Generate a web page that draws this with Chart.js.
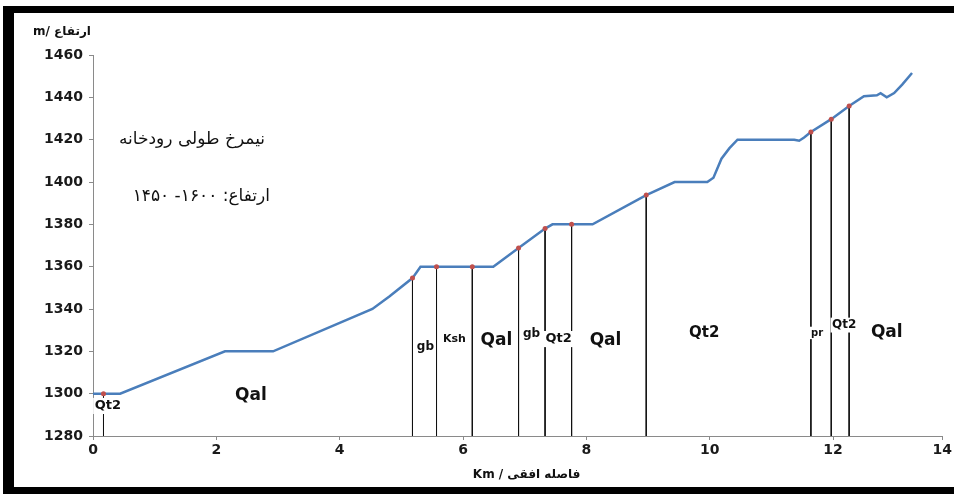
<!DOCTYPE html>
<html>
<head>
<meta charset="utf-8">
<script src="https://cdn.jsdelivr.net/npm/chart.js@4.4.1/dist/chart.umd.min.js"></script>
<style>
  html, body { margin: 0; padding: 0; background: #fff; }
  #wrap { position: relative; width: 954px; height: 494px; overflow: hidden; }
  canvas { position: absolute; left: 0; top: 0; }
  .bar { position: absolute; background: #000; }
</style>
</head>
<body>
<div id="wrap">
  <canvas id="c" width="954" height="494"></canvas>
  <div class="bar" style="left:3px;top:6px;width:11px;height:488px;"></div>
  <div class="bar" style="left:3px;top:6px;width:951px;height:7px;"></div>
  <div class="bar" style="left:3px;top:487px;width:951px;height:7px;"></div>
</div>
<script>
// ---- data ----
const profileKm   = [0, 0.17, 0.44, 2.14, 2.92, 4.53, 4.81, 5.18, 5.31, 5.57, 6.15, 6.49, 6.90, 7.33, 7.45, 7.76, 8.10, 8.97, 9.43, 9.96, 10.06, 10.19, 10.32, 10.45, 11.37, 11.45, 11.53, 11.64, 11.97, 12.26, 12.50, 12.71, 12.77, 12.87, 12.99, 13.12, 13.28];
const profileElev = [1300, 1300, 1300, 1320, 1320, 1340, 1346, 1354.6, 1360, 1360, 1360, 1360, 1368.8, 1378, 1380, 1380, 1380, 1393.8, 1400, 1400, 1402, 1411, 1416, 1420, 1420, 1419.5, 1421, 1423.6, 1429.7, 1435.9, 1440.5, 1441, 1442, 1440, 1442, 1446, 1451.5];

const contactKm   = [0.17, 5.18, 5.57, 6.15, 6.90, 7.33, 7.76, 8.97, 11.64, 11.97, 12.26];
const contactElev = [1300, 1354.6, 1360, 1360, 1368.8, 1378, 1380, 1393.8, 1423.6, 1429.7, 1435.9];

const unitNames = ['Qt2', 'Qal', 'gb', 'Ksh', 'Qal', 'gb', 'Qt2', 'Qal', 'Qt2', 'pr', 'Qt2', 'Qal'];
const unitKm    = [0.24, 2.56, 5.39, 5.86, 6.54, 7.11, 7.55, 8.31, 9.91, 11.74, 12.18, 12.87];
const unitElev  = [1294.2, 1298.9, 1322, 1325.8, 1324.9, 1328.2, 1325.8, 1325.3, 1328.7, 1328.7, 1332.4, 1328.7];

const yMin = 1280, yMax = 1460, yStep = 20;
const xMin = 0, xMax = 13.77;
const xTickValues = [0, 2, 4, 6, 8, 10, 12, 14];
const xTickLabels = ['0', '2', '4', '6', '8', '10', '12', '14'];

const yAxisTitle = 'm/ ارتفاع';
const xAxisTitle = 'Km / فاصله افقی';
const noteLine1 = 'نیمرخ طولی رودخانه';
const noteLine2 = 'ارتفاع: ۱۶۰۰- ۱۴۵۰';

// ---- styles (kept apart from data) ----
const unitFontSizes = [13, 17, 12, 11, 17, 12, 13, 17, 15, 10, 12, 17];
const FONT = '"DejaVu Sans", sans-serif';

const datasets = [
  {
    label: 'contacts',
    data: contactKm.map((x, i) => ({ x, y: contactElev[i] })),
    showLine: false,
    pointRadius: 2.5,
    pointBackgroundColor: '#c0504d',
    pointBorderColor: '#c0504d',
    pointBorderWidth: 0,
    order: 0
  },
  {
    label: 'profile',
    data: profileKm.map((x, i) => ({ x, y: profileElev[i] })),
    showLine: true,
    borderColor: '#4a7ebb',
    borderWidth: 2.5,
    pointRadius: 0,
    tension: 0,
    order: 1
  }
];
contactKm.forEach((x, i) => {
  datasets.push({
    label: 'contact' + i,
    data: [{ x, y: contactElev[i] }, { x, y: yMin }],
    showLine: true,
    borderColor: '#111',
    borderWidth: 1,
    pointRadius: 0,
    order: 2
  });
});

const labelsPlugin = {
  id: 'unitLabels',
  afterDatasetsDraw(chart) {
    const { ctx, scales: { x, y } } = chart;
    ctx.save();
    ctx.textAlign = 'center';
    ctx.textBaseline = 'middle';
    unitNames.forEach((t, i) => {
      const px = x.getPixelForValue(unitKm[i]);
      const py = y.getPixelForValue(unitElev[i]);
      const fs = unitFontSizes[i];
      ctx.font = 'bold ' + fs + 'px ' + FONT;
      const w = ctx.measureText(t).width;
      ctx.fillStyle = '#fff';
      ctx.fillRect(px - w / 2 - 1.5, py - fs * 0.62, w + 3, fs * 1.24);
      ctx.fillStyle = '#111';
      ctx.fillText(t, px, py);
    });
    ctx.restore();
  }
};

const textPlugin = {
  id: 'texts',
  afterDraw(chart) {
    const { ctx, chartArea: a } = chart;
    ctx.save();
    ctx.fillStyle = '#111';
    ctx.textBaseline = 'middle';
    // y-axis title
    ctx.font = 'bold 12px ' + FONT;
    ctx.textAlign = 'left';
    ctx.fillText(yAxisTitle, a.left - 60, a.top - 23);
    // x-axis title
    ctx.textAlign = 'center';
    ctx.fillText(xAxisTitle, (a.left + a.right) / 2 + 9, a.bottom + 39);
    // annotation
    ctx.direction = 'rtl';
    ctx.textAlign = 'right';
    ctx.font = '17px ' + FONT;
    ctx.fillText(noteLine1, a.left + 172, a.top + 85);
    ctx.fillText(noteLine2, a.left + 177, a.top + 142);
    ctx.restore();
  }
};

new Chart(document.getElementById('c'), {
  type: 'line',
  data: { datasets },
  options: {
    responsive: false,
    animation: false,
    events: [],
    layout: { padding: { left: 0, right: 11, top: 55, bottom: 0 } },
    plugins: { legend: { display: false }, tooltip: { enabled: false } },
    scales: {
      x: {
        type: 'linear',
        min: xMin,
        max: xMax,
        afterBuildTicks(s) { s.ticks = xTickValues.map(v => ({ value: Math.min(v, xMax) })); },
        afterFit(s) { s.height = 58; },
        ticks: {
          callback: (v, i) => xTickLabels[i],
          font: { family: 'DejaVu Sans', weight: 'bold', size: 14 },
          color: '#1a1a1a',
          padding: 2,
          maxRotation: 0,
          autoSkip: false
        },
        grid: { display: true, drawOnChartArea: false, drawTicks: true, tickLength: 4, color: '#8a8a8a' },
        border: { display: true, color: '#8a8a8a', width: 1 }
      },
      y: {
        type: 'linear',
        min: yMin,
        max: yMax,
        afterFit(s) { s.width = 93; },
        ticks: {
          stepSize: yStep,
          callback: v => String(v),
          font: { family: 'DejaVu Sans', weight: 'bold', size: 14 },
          color: '#1a1a1a',
          padding: 6
        },
        grid: { display: true, drawOnChartArea: false, drawTicks: true, tickLength: 4, color: '#8a8a8a' },
        border: { display: true, color: '#8a8a8a', width: 1 }
      }
    }
  },
  plugins: [labelsPlugin, textPlugin]
});
</script>
</body>
</html>
